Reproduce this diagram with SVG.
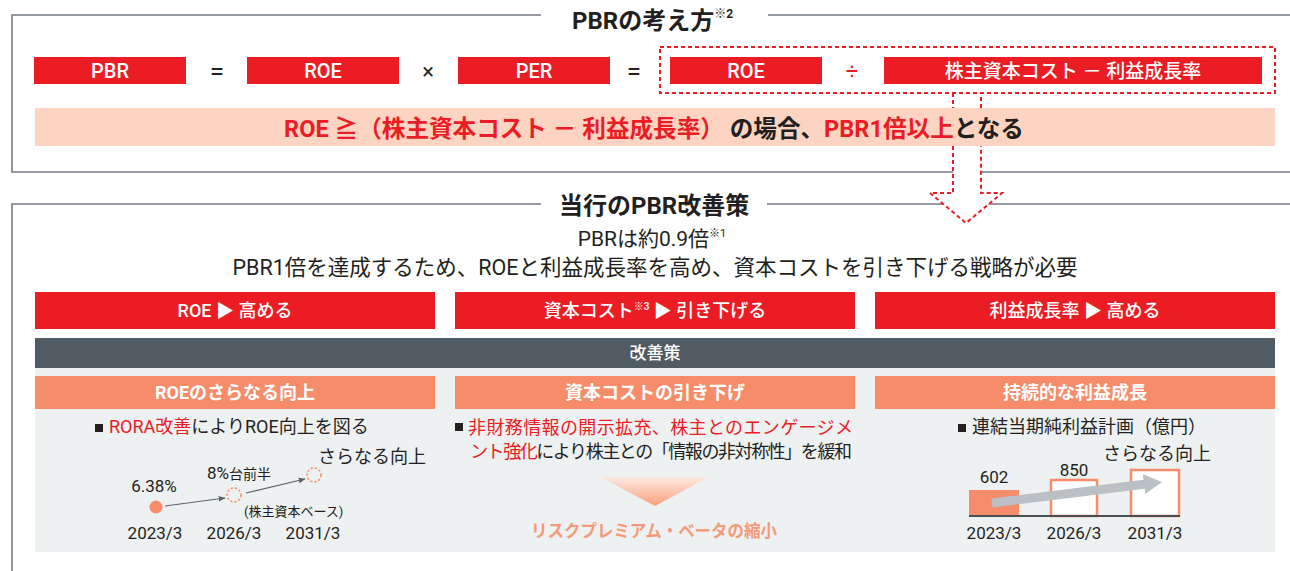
<svg xmlns="http://www.w3.org/2000/svg" width="1290" height="571" viewBox="0 0 1290 571">
<style>
text{font-family:Roboto,"Noto Sans CJK JP",sans-serif;fill:#231f20}
.w{fill:#fff}
.r{fill:#ec1c24}
.mid{text-anchor:middle}
.b{font-weight:700}
.m{font-weight:500}
.cjk{font-family:"Noto Sans CJK JP",sans-serif}
.redbox{fill:#ec1c24}
.frame{fill:none;stroke:#737b82;stroke-width:1.6}
.dash{fill:none;stroke:#ec1c24;stroke-width:2;stroke-dasharray:4 3}
.dc{fill:none;stroke:#f68c69;stroke-width:1.5;stroke-dasharray:2.2 2}
.thin{stroke:#5b656d;stroke-width:1.1;fill:none}
</style>
<defs>
<marker id="ah" viewBox="0 0 10 10" refX="9" refY="5" markerWidth="7" markerHeight="7" orient="auto" markerUnits="userSpaceOnUse">
<path d="M0,1 L10,5 L0,9 z" fill="#5b656d"/>
</marker>
<linearGradient id="tg" x1="0" y1="0" x2="0" y2="1">
<stop offset="0" stop-color="#fdeae1"/>
<stop offset="1" stop-color="#f7a07d"/>
</linearGradient>
</defs>

<!-- frames -->
<g id="frames">
<path class="frame" d="M1290,15 H768 M541,15 H12 V172 H1290"/>
<path class="frame" d="M1290,204 H767 M541,204 H12 V571"/>
</g>

<!-- titles -->
<g id="title1"><text x="572" y="29" font-size="24" class="b">PBRの考え方<tspan font-size="12" dy="-11">※2</tspan></text></g>
<g id="title2"><text x="559" y="214" font-size="24" class="b">当行のPBR改善策</text></g>

<!-- formula row -->
<g id="pbr"><rect class="redbox" x="34" y="57" width="152" height="27"/><text x="110" y="78" font-size="20" class="w mid m">PBR</text></g>
<g id="eq1"><text x="217" y="80" font-size="26" class="mid">=</text></g>
<g id="roe1"><rect class="redbox" x="247" y="57" width="152" height="27"/><text x="323" y="78" font-size="20" class="w mid m">ROE</text></g>
<g id="times"><text x="428" y="79" font-size="22" class="mid">×</text></g>
<g id="per"><rect class="redbox" x="458" y="57" width="152" height="27"/><text x="534" y="78" font-size="20" class="w mid m">PER</text></g>
<g id="eq2"><text x="634" y="80" font-size="26" class="mid">=</text></g>
<g id="dashedgroup"><rect class="dash" x="660" y="47" width="615" height="46"/></g>
<g id="roe2"><rect class="redbox" x="670" y="57" width="152" height="27"/><text x="746" y="78" font-size="20" class="w mid m">ROE</text></g>
<g id="div"><text x="852" y="79" font-size="22" class="mid r">÷</text></g>
<g id="costgrowth"><rect class="redbox" x="884" y="57" width="378" height="27"/><text x="1073" y="78" font-size="19" class="w mid m">株主資本コスト <tspan class="cjk">－</tspan> 利益成長率</text></g>

<!-- condition band -->
<g id="condition">
<rect x="35" y="108" width="1240" height="38" fill="#fcd4c1"/>
<text x="654" y="137" font-size="23.6" class="mid b"><tspan class="r">ROE ≧（株主資本コスト <tspan class="cjk">－</tspan> 利益成長率）</tspan> の場合、<tspan class="r">PBR1倍以上</tspan>となる</text>
</g>

<!-- subtitle -->
<g id="subtitle">
<text x="652" y="246" font-size="21" class="mid">PBRは約0.9倍<tspan font-size="11" dy="-9">※1</tspan></text>
<text x="655" y="275" font-size="21.5" class="mid">PBR1倍を達成するため、ROEと利益成長率を高め、資本コストを引き下げる戦略が必要</text>
</g>

<!-- red headers -->
<g id="h-roe"><rect class="redbox" x="35" y="292" width="400" height="37"/><text x="235" y="317" font-size="18" class="w mid m">ROE ▶ 高める</text></g>
<g id="h-cost"><rect class="redbox" x="455" y="292" width="400" height="37"/><text x="655" y="317" font-size="18" class="w mid m">資本コスト<tspan font-size="10" dy="-7">※3</tspan><tspan dy="7"> ▶ 引き下げる</tspan></text></g>
<g id="h-growth"><rect class="redbox" x="875" y="292" width="400" height="37"/><text x="1075" y="317" font-size="18" class="w mid m">利益成長率 ▶ 高める</text></g>

<!-- measures bar -->
<g id="measures"><rect x="35" y="338" width="1240" height="30" fill="#505b63"/><text x="655" y="359" font-size="17" class="w mid m">改善策</text></g>

<!-- panel -->
<rect x="35" y="368" width="1240" height="184" fill="#eef1f2"/>

<!-- column 1 -->
<g id="col1">
<rect x="35" y="376" width="400" height="33" fill="#f68c69"/>
<text x="235" y="399" font-size="18" class="w mid b">ROEのさらなる向上</text>
<rect x="95" y="424" width="8" height="8" fill="#231f20"/>
<text x="109" y="433" font-size="18"><tspan class="r">RORA改善</tspan>によりROE向上を図る</text>
<circle cx="156" cy="507" r="6.5" fill="#f68c69"/>
<circle class="dc" cx="234" cy="495" r="7"/>
<circle class="dc" cx="314" cy="475" r="7"/>
<text x="154" y="492" font-size="17" class="mid">6.38%</text>
<text x="207" y="479" font-size="17">8%<tspan font-size="14">台前半</tspan></text>
<text x="318" y="463" font-size="18">さらなる向上</text>
<text x="244" y="516" font-size="13">(株主資本ベース)</text>
<text x="155" y="539" font-size="17" class="mid">2023/3</text>
<text x="234" y="539" font-size="17" class="mid">2026/3</text>
<text x="313" y="539" font-size="17" class="mid">2031/3</text>
</g>

<!-- column 2 -->
<g id="col2">
<rect x="455" y="376" width="400" height="33" fill="#f68c69"/>
<text x="655" y="399" font-size="18" class="w mid b">資本コストの引き下げ</text>
<rect x="455" y="423" width="8" height="8" fill="#231f20"/>
<text x="468" y="434" font-size="18" class="r" textLength="385" lengthAdjust="spacing">非財務情報の開示拡充、株主とのエンゲージメ</text>
<text x="470" y="458" font-size="18" textLength="382" lengthAdjust="spacing"><tspan class="r">ント強化</tspan>により株主との「情報の非対称性」を緩和</text>
<polygon points="600,477 709,477 655,506" fill="url(#tg)"/>
<text x="531" y="537" font-size="17.5" class="b" style="fill:#f59a79" textLength="246" lengthAdjust="spacingAndGlyphs">リスクプレミアム・ベータの縮小</text>
</g>

<!-- column 3 -->
<g id="col3">
<rect x="875" y="376" width="400" height="33" fill="#f68c69"/>
<text x="1075" y="399" font-size="18" class="w mid b">持続的な利益成長</text>
<rect x="958" y="424" width="8" height="8" fill="#231f20"/>
<text x="972" y="433" font-size="18">連結当期純利益計画（億円）</text>
<rect x="969" y="490" width="50" height="26" fill="#f68c69"/>
<rect x="1051" y="480" width="46" height="36" fill="#fff" stroke="#f68c69" stroke-width="2.5"/>
<rect x="1131" y="470" width="48" height="46" fill="#fff" stroke="#f68c69" stroke-width="2.5"/>
<line x1="969" y1="516" x2="1180" y2="516" stroke="#4a4f54" stroke-width="2"/>
<polygon points="991.4,498.5 1143.6,479.7 1142.9,474.3 1162,482 1145.3,494.1 1144.7,488.7 992.6,507.5" fill="#bac0c4"/>
<text x="994" y="483" font-size="17" class="mid">602</text>
<text x="1074" y="476" font-size="17" class="mid">850</text>
<text x="1103" y="460" font-size="18">さらなる向上</text>
<text x="994" y="539" font-size="17" class="mid">2023/3</text>
<text x="1074" y="539" font-size="17" class="mid">2026/3</text>
<text x="1155" y="539" font-size="17" class="mid">2031/3</text>
</g>

<!-- connectors -->
<g id="connectors">
<polygon points="953,146 981,146 981,193 1002,193 966,223 930,193 953,193" fill="#fff"/>
<path class="dash" d="M953,93 V108 M981,108 V93"/>
<path class="dash" d="M953,146 V193 H930 L966,223 L1002,193 H981 V146"/>
<line class="thin" x1="165" y1="506" x2="225" y2="498" marker-end="url(#ah)"/>
<line class="thin" x1="246" y1="493" x2="305" y2="479" marker-end="url(#ah)"/>
</g>
</svg>
